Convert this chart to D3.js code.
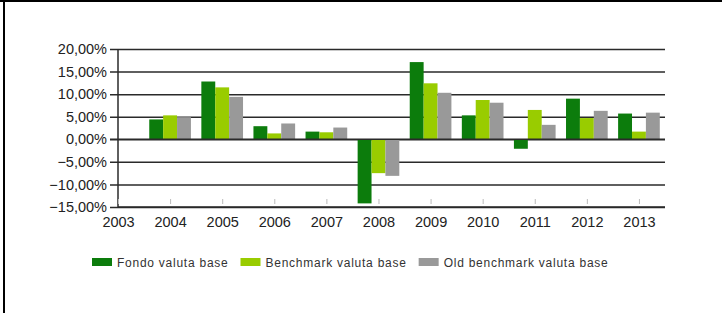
<!DOCTYPE html>
<html lang="it">
<head>
<meta charset="UTF-8">
<title>Rendimenti annuali</title>
<script src="https://d3js.org/d3.v7.min.js"></script>
<style>
    body{ margin:0; background:#fff; }
    text{ font-family: 'Liberation Sans', Arial, sans-serif; fill:#222; }
    .tick-label{ font-size:14.5px; }
    .legend-label{ font-size:12px; letter-spacing:0.75px; fill:#333; }
</style>
</head>
<body>
<svg width="722" height="313"></svg>
<script>
    // values (percent)
    const years = [2004, 2005, 2006, 2007, 2008, 2009, 2010, 2011, 2012, 2013];
    const fondo = [4.4, 12.8, 2.9, 1.7, -14.2, 17.1, 5.3, -2.1, 9.0, 5.7];
    const benchmark = [5.3, 11.5, 1.3, 1.55, -7.5, 12.4, 8.7, 6.5, 4.7, 1.7];
    const oldBenchmark = [4.9, 9.4, 3.5, 2.6, -8.1, 10.3, 8.1, 3.2, 6.3, 5.9];
    const yTicks = [-15, -10, -5, 0, 5, 10, 15, 20];
    const xTicks = [2003, 2004, 2005, 2006, 2007, 2008, 2009, 2010, 2011, 2012, 2013];
    const seriesNames = ["Fondo valuta base", "Benchmark valuta base", "Old benchmark valuta base"];
    const colors = ["#0c7c0c", "#99cc00", "#999999"];

    const svg = d3.select("svg");
    const plotL = 118, plotR = 665, plotT = 49, plotB = 207;

    const x = d3.scaleLinear().domain([2003, 2013.5]).range([plotL, plotR]);
    const y = d3.scaleLinear().domain([-15, 20]).range([plotB, plotT]);
    const groupW = (x(2004) - x(2003)) * 0.8;
    const inner = d3.scaleBand().domain(d3.range(3)).range([-groupW/2, groupW/2]);

    // outer frame (only top and left visible)
    svg.append("line").attr("x1", 0).attr("x2", 722).attr("y1", 1).attr("y2", 1)
        .attr("stroke", "#000").attr("stroke-width", 2);
    svg.append("line").attr("x1", 4).attr("x2", 4).attr("y1", 0).attr("y2", 313)
        .attr("stroke", "#000").attr("stroke-width", 2);

    // y axis with long grid lines
    const yAxis = d3.axisLeft(y).tickValues(yTicks)
        .tickSize(-(plotR - plotL) - 8)
        .tickPadding(4)
        .tickFormat(d => d3.format(".2f")(d).replace(".", ",") + "%");
    const yG = svg.append("g").attr("transform", `translate(${plotR},0)`).call(yAxis);
    yG.select(".domain").remove();
    yG.selectAll(".tick line").attr("x2", -(plotR - plotL) - 8)
        .attr("stroke", "#2a2a2a").attr("stroke-width", 1.5);
    yG.selectAll(".tick text").attr("class", "tick-label")
        .attr("x", -(plotR - plotL) - 11)
        .attr("text-anchor", "end")
        .attr("fill", "#222");

    // bars
    const series = [fondo, benchmark, oldBenchmark];
    series.forEach((vals, i) => {
        svg.append("g").selectAll("rect")
            .data(years.map((yr, j) => ({yr, v: vals[j]})))
            .join("rect")
            .attr("x", d => x(d.yr) + inner(i))
            .attr("width", inner.bandwidth())
            .attr("y", d => y(Math.max(0, d.v)))
            .attr("height", d => Math.abs(y(d.v) - y(0)))
            .attr("fill", colors[i]);
    });

    // zero line drawn above the bars
    svg.append("line").attr("x1", plotL - 8).attr("x2", plotR)
        .attr("y1", y(0)).attr("y2", y(0))
        .attr("stroke", "#2a2a2a").attr("stroke-width", 1.5);

    // vertical axis line
    svg.append("line").attr("x1", plotL).attr("x2", plotL)
        .attr("y1", plotT).attr("y2", plotB)
        .attr("stroke", "#2a2a2a").attr("stroke-width", 1.5);

    // x axis
    const xAxis = d3.axisBottom(x).tickValues(xTicks)
        .tickSize(6).tickPadding(4)
        .tickFormat(d3.format("d"));
    const xG = svg.append("g").attr("transform", `translate(0,${plotB})`).call(xAxis);
    xG.select(".domain").remove();
    xG.selectAll(".tick line").attr("y1", -8).attr("y2", -3).attr("stroke", "#bbb");
    xG.selectAll(".tick text").attr("class", "tick-label").attr("y", 10).attr("fill", "#222");
    svg.append("line").attr("x1", plotL).attr("x2", plotR)
        .attr("y1", plotB).attr("y2", plotB)
        .attr("stroke", "#2a2a2a").attr("stroke-width", 1.5);

    // legend
    let lx = 92;
    seriesNames.forEach((name, i) => {
        const g = svg.append("g").attr("transform", `translate(${lx},258)`);
        g.append("rect").attr("width", 20).attr("height", 8).attr("fill", colors[i]);
        const t = g.append("text").attr("class", "legend-label")
            .attr("x", 25).attr("y", 8.5).text(name);
        lx += 25 + t.node().getComputedTextLength() + 12;
    });
</script>
</body>
</html>
